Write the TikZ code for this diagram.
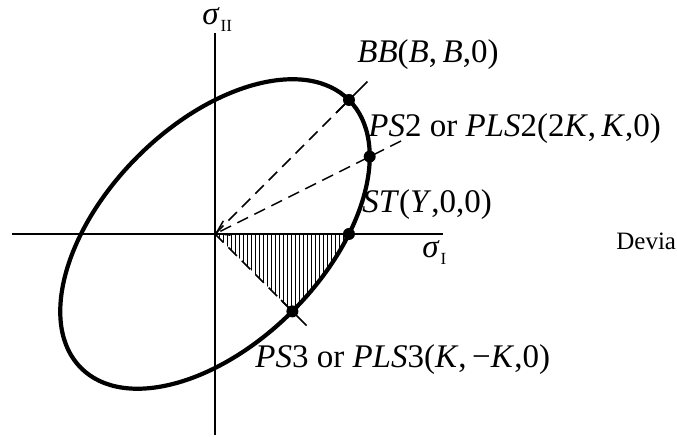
\documentclass[tikz,border=0pt]{standalone}
\usepackage{fontspec}
\setmainfont{Liberation Serif}
\usepackage{tikz}
\usetikzlibrary{calc, arrows.meta}

\newcommand{\mi}[1]{\textit{#1}\/}
\newcommand{\subI}[1]{\kern0.5pt\raisebox{-0.4ex}{\fontsize{8.5}{9}\selectfont #1}}

\begin{document}
\begin{tikzpicture}[x=0.5pt, y=0.5pt, font=\fontsize{16.5}{19}\selectfont,
  axis/.style={line width=0.85pt},
  locus/.style={line width=2.1pt},
  guide/.style={line width=0.75pt, dash pattern=on 6pt off 3.5pt},
  tickline/.style={line width=0.8pt},
  hatch/.style={line width=0.4pt},
  dot/.style={circle, fill=black, inner sep=0pt, minimum size=6pt},
  lbl/.style={anchor=base west, inner sep=0pt}]

\useasboundingbox (-215,-203) rectangle (462,234);

%% ─── Axes ───────────────────────────────────────────────────
\coordinate (O) at (0,0);
\draw[axis] (-203,0) -- (228,0);
\draw[axis] (0,-201) -- (0,201);
\node[lbl] (sII) at (-13,209) {\textit{σ}\subI{II}};
\node[lbl] (sI) at (207,-24) {\textit{σ}\subI{I}};

%% ─── Key stress states (Y = 134) ────────────────────────────
\coordinate (BB)  at (134,134);
\coordinate (PSb) at (154.7,77.4);
\coordinate (ST)  at (134,0);
\coordinate (PSc) at (77.4,-77.4);

%% Hatched sector
\begin{scope}
  \clip (O) -- (240,0) -- (240,-240) -- cycle;
  \clip[rotate=45] (O) ellipse [x radius=94.75pt, y radius=54.7pt];
  \foreach \x in {4,8,...,152}
    \draw[hatch] (\x,0) -- (\x,-120);
\end{scope}

%% ─── Rays to the points ─────────────────────────────────────
\coordinate (PSbend) at (186,93);
\draw[guide] (O) -- (BB);
\draw[guide, -{Straight Barb[length=6pt, width=8pt]}] (PSbend) -- (O);
\draw[guide] (O) -- (PSc);
\draw[tickline] ($(BB)!-13pt!(O)$) -- ($(BB)!9pt!(O)$);
\draw[tickline] ($(PSc)!-10pt!(O)$) -- ($(PSc)!8pt!(O)$);

%% ─── Yield ellipse ──────────────────────────────────────────
\draw[locus, rotate=45] (O) ellipse [x radius=94.75pt, y radius=54.7pt];

\node[dot] (dBB)  at (BB)  {};
\node[dot] (dPSb) at (PSb) {};
\node[dot] (dST)  at (ST)  {};
\node[dot] (dPSc) at (PSc) {};

%% ─── Labels ─────────────────────────────────────────────────
\node[lbl] (lBB) at (142,171)
  {\mi{BB}(\mi{B},\,\mi{B},0)};
\node[lbl] (lPSb) at (153,97)
  {\mi{PS}2 or \mi{PLS}2(2\mi{K},\,\mi{K},0)};
\node[lbl] (lST) at (147,21)
  {\mi{ST}(\mi{Y},0,0)};
\node[lbl] (lPSc) at (40,-134)
  {\mi{PS}3 or \mi{PLS}3(\mi{K},\,−\mi{K},0)};
\node[lbl, font=\fontsize{12.5}{15}\selectfont] (dev) at (401,-16) {Devia};

\end{tikzpicture}
\end{document}
